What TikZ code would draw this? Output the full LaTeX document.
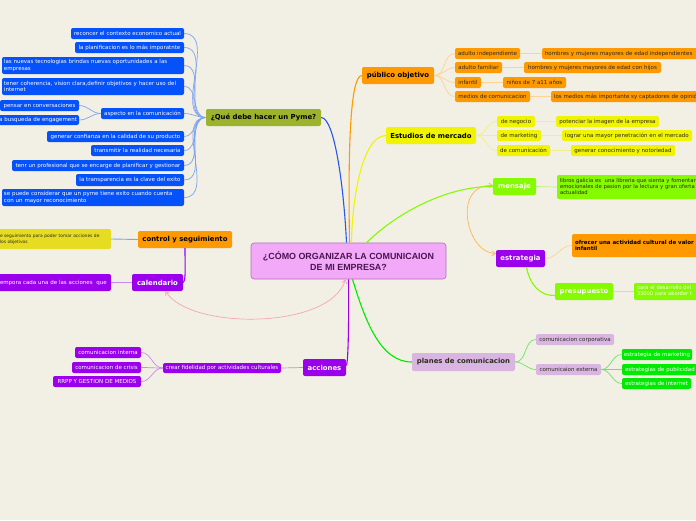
\documentclass[tikz,border=0pt]{standalone}
\usepackage{fontspec}
\setmainfont{DejaVu Sans}
\newfontfamily\arialf{Liberation Sans}
\usetikzlibrary{arrows.meta}
\definecolor{bg}{HTML}{F2EFE4}
\definecolor{cblue}{HTML}{0552FA}
\definecolor{cbluel}{HTML}{7FA4F2}
\definecolor{cbluem}{HTML}{2458F5}
\definecolor{olive}{HTML}{9DB32B}
\definecolor{corange}{HTML}{FF9900}
\definecolor{corangel}{HTML}{FFD394}
\definecolor{cyel}{HTML}{F0F400}
\definecolor{cyell}{HTML}{F2EE8A}
\definecolor{cyelc}{HTML}{E6DC22}
\definecolor{clime}{HTML}{86FA00}
\definecolor{climel}{HTML}{B8F27A}
\definecolor{cgreen}{HTML}{00EA00}
\definecolor{cgreenl}{HTML}{66E866}
\definecolor{cpurple}{HTML}{9A00EC}
\definecolor{cpurplel}{HTML}{C88AEA}
\definecolor{clav}{HTML}{D9B6E2}
\definecolor{cpink}{HTML}{F1A9F8}
\definecolor{cpinkb}{HTML}{B06EB4}
\definecolor{carrow}{HTML}{F3A6BA}
\definecolor{ctext}{HTML}{2E2A20}
\definecolor{ctitle}{HTML}{4A1450}
\begin{document}
\hyphenpenalty=10000
\exhyphenpenalty=10000
\begin{tikzpicture}[x=1pt,y=-1pt,
  box/.style={rounded corners=2pt, inner xsep=2pt, inner ysep=1pt, font=\fontsize{5.5}{6.2}\selectfont},
  blueleaf/.style={box, fill=cblue, text=white},
  orleaf/.style={box, fill=corange, text=ctext},
  yelleaf/.style={box, fill=cyel, text=ctext},
  purleaf/.style={box, fill=cpurple, text=white},
  lavleaf/.style={box, fill=clav, text=ctext},
  grleaf/.style={box, fill=cgreen, text=white},
  limeleaf/.style={box, fill=clime, text=ctext},
  mainbox/.style={rounded corners=2pt, inner sep=1pt, font=\fontsize{6.9}{8}\selectfont\bfseries},
  ledge/.style={line width=0.7pt},
  medge/.style={line width=1.1pt},
  tip/.style={{Straight Barb[length=3.5pt,width=5pt]}-{Straight Barb[length=3.5pt,width=5pt]}}
]
\useasboundingbox (0,0) rectangle (696,520);
\clip (0,0) rectangle (696,520);
\fill[bg] (0,0) rectangle (696,520);

% ---------- center
\node[rounded corners=3pt, fill=cpink, draw=cpinkb, line width=0.6pt, minimum width=195pt, minimum height=36pt, align=center, text=ctitle, font=\arialf\fontsize{8.9}{10.5}\selectfont\bfseries] (c) at (348.5,261) {¿CÓMO ORGANIZAR LA COMUNICAION\\DE MI EMPRESA?};

% ---------- Que debe hacer
\node[mainbox, fill=olive, text=black, minimum width=115pt, minimum height=17pt] (que) at (263.5,117.5) {¿Qué debe hacer un Pyme?};
\node[blueleaf, minimum width=113pt, minimum height=11pt] (b1) at (127.5,33.5) {reconcer el contexto economico actual};
\node[blueleaf, minimum width=109pt, minimum height=11pt] (b2) at (129.5,47.5) {la planificacion es lo más imporatnte};
\node[blueleaf, text width=178pt, minimum height=17pt, align=left] (b3) at (93,65.5) {las nuevas tecnologias brindas nuevas oportunidades a las empresas};
\node[blueleaf, text width=178pt, minimum height=17pt, align=left] (b4) at (93,86.5) {tener coherencia, vision clara,definir objetivos y hacer uso del internet};
\node[blueleaf, minimum width=79pt, minimum height=11pt] (b5) at (39.5,105.5) {pensar en conversaciones};
\node[blueleaf, text width=85pt, minimum height=10pt, align=right] (b6) at (34.5,120) {la busqueda de engagement};
\node[blueleaf, minimum width=83pt, minimum height=11pt] (b7) at (142.5,113.5) {aspecto en la comunicación};
\node[blueleaf, minimum width=137pt, minimum height=11pt] (b8) at (115.5,136.5) {generar confianza en la calidad de su producto};
\node[blueleaf, minimum width=93pt, minimum height=11pt] (b9) at (137.5,150.5) {transmitir la realidad necesaria};
\node[blueleaf, minimum width=172pt, minimum height=11pt] (b10) at (98,165.5) {tenr un profesional que se encarge de planificar y gestionar};
\node[blueleaf, minimum width=108pt, minimum height=12pt] (b11) at (130,180) {la transparencia es la clave del exito};
\node[blueleaf, text width=178pt, minimum height=17pt, align=left] (b12) at (93,197.5) {se puede considerar que un pyme tiene exito cuando cuenta con un mayor reconocimiento};

\foreach \n in {b1,b2,b3,b4,b7,b8,b9,b10,b11,b12}
  \draw[ledge, cbluel] (que.west) to[out=180,in=0] (\n.east);
\draw[ledge, cbluel] (b7.west) to[out=180,in=0] (b5.east);
\draw[ledge, cbluel] (b7.west) to[out=180,in=0] (b6.east);

% ---------- control / calendario
\node[mainbox, fill=corange, text=black, minimum width=94pt, minimum height=17pt] (ctl) at (185,239.5) {control y seguimiento};
\node[box, fill=cyelc, text=ctext, text width=116pt, minimum height=20pt, align=left, font=\fontsize{4.4}{6}\selectfont] (yl) at (51,239) {\hspace*{7pt}e seguimiento para poder tomar acciones de\\\hspace*{7pt}los objetivos};
\node[mainbox, fill=cpurple, text=white, minimum width=51pt, minimum height=17pt] (cal) at (157.5,282.5) {calendario};
\node[purleaf, text width=116pt, minimum height=17pt, align=left] (cl) at (51,282.5) {\hspace*{7pt}empora cada una de las acciones\ \ que};
\draw[ledge, cbluel, line width=0.9pt] (ctl.west) -- (yl.east);
\draw[ledge, cpurplel] (cal.west) -- (cl.east);
\draw[medge, cpurple] (ctl.south) .. controls (185,268) and (186,280) .. (cal.east);
\draw[ledge, carrow, tip] ([xshift=-3pt]c.south) .. controls (330,330) and (190,330) .. ([xshift=8pt]cal.south);

% ---------- acciones
\node[mainbox, fill=cpurple, text=white, minimum width=43pt, minimum height=17pt] (acc) at (324.5,367.5) {acciones};
\node[purleaf, minimum width=118pt, minimum height=10pt] (cre) at (222,368) {crear fidelidad por actividades culturales};
\node[purleaf, minimum width=66pt, minimum height=11pt] (ci) at (108,352.5) {comunicacion interna};
\node[purleaf, minimum width=69pt, minimum height=11pt] (cc) at (106.5,367.5) {comunicacion de crisis};
\node[purleaf, minimum width=88pt, minimum height=11pt] (rr) at (97,381.5) {RRPP Y GESTION DE MEDIOS};
\draw[ledge, cpurplel] (acc.west) -- (cre.east);
\foreach \n in {ci,cc,rr}
  \draw[ledge, cpurplel] (cre.west) to[out=180,in=0] (\n.east);

% ---------- publico objetivo
\node[mainbox, fill=corange, text=black, minimum width=72pt, minimum height=17pt] (pub) at (398,75.5) {público objetivo};
\node[orleaf, minimum width=65pt, minimum height=11pt] (o1) at (487.5,53.5) {adulto independiente};
\node[orleaf, text width=154pt, minimum height=11pt, align=left] (o1b) at (621,53.5) {\hspace*{1pt}hombres y mujeres mayores de edad independientes};
\node[orleaf, minimum width=47pt, minimum height=11pt] (o2) at (478.5,67.5) {adulto familiar};
\node[orleaf, minimum width=137pt, minimum height=11pt] (o2b) at (592.5,67.5) {hombres y mujeres mayores de edad con hijos};
\node[orleaf, minimum width=26pt, minimum height=11pt] (o3) at (468,82.5) {infantil};
\node[orleaf, minimum width=63pt, minimum height=11pt] (o3b) at (534.5,82.5) {niños de 7 a11 años};
\node[orleaf, minimum width=75pt, minimum height=11pt] (o4) at (492.5,96.5) {medios de comunicacion};
\node[orleaf, text width=165pt, minimum height=11pt, align=left] (o4b) at (635.5,96.5) {\hspace*{1pt}los medios más importante sy captadores de opinión};
\foreach \n in {o1,o2,o3,o4}
  \draw[ledge, corangel] (pub.east) to[out=0,in=180] (\n.west);
\draw[ledge, corangel] (o1.east) -- (o1b.west);
\draw[ledge, corangel] (o2.east) -- (o2b.west);
\draw[ledge, corangel] (o3.east) -- (o3b.west);
\draw[ledge, corangel] (o4.east) -- (o4b.west);

% ---------- estudios de mercado
\node[mainbox, fill=cyel, text=black, minimum width=90pt, minimum height=17pt] (est) at (431,135.5) {Estudios de mercado};
\node[yelleaf, minimum width=38pt, minimum height=11pt] (y1) at (516,121.5) {de negocio};
\node[yelleaf, minimum width=103pt, minimum height=11pt] (y1b) at (607.5,121.5) {potenciar la imagen de la empresa};
\node[yelleaf, minimum width=44pt, minimum height=11pt] (y2) at (519,135.5) {de marketing};
\node[yelleaf, minimum width=130pt, minimum height=11pt] (y2b) at (627,135.5) {lograr una mayor penetración en el mercado};
\node[yelleaf, minimum width=53pt, minimum height=11pt] (y3) at (523.5,150.5) {de comunicación};
\node[yelleaf, minimum width=104pt, minimum height=11pt] (y3b) at (623,150.5) {generar conocimiento y notoriedad};
\foreach \n in {y1,y2,y3}
  \draw[ledge, cyell] (est.east) to[out=0,in=180] (\n.west);
\draw[ledge, cyell] (y1.east) -- (y1b.west);
\draw[ledge, cyell] (y2.east) -- (y2b.west);
\draw[ledge, cyell] (y3.east) -- (y3b.west);

% ---------- mensaje / estrategia / presupuesto
\node[mainbox, fill=clime, text=white, minimum width=43pt, minimum height=17pt] (men) at (514.5,186.5) {mensaje};
\node[limeleaf, text width=159pt, minimum height=24pt, align=left, font=\fontsize{5.3}{6}\selectfont] (menl) at (638.5,187) {\hspace*{1pt}libros galicia es\ \ una libreria que sienta y fomentar\\\hspace*{1pt}emocionales de pasion por la lectura y gran oferta\\\hspace*{1pt}actualidad};
\draw[ledge, climel] (men.east) -- (menl.west);

\node[mainbox, fill=cpurple, text=white, minimum width=49pt, minimum height=17pt] (str) at (520.5,258.5) {estrategia};
\node[box, fill=corange, text=black, text width=144pt, minimum height=23pt, align=left, font=\fontsize{5.5}{6.8}\selectfont\bfseries] (strl) at (646,245.5) {\hspace*{1pt}ofrecer una actividad cultural de valor\\\hspace*{1pt}infantil};
\draw[ledge, corangel] (str.east) to[out=0,in=180] (strl.west);
\draw[ledge, corange!70, tip] ([yshift=1pt]men.west) .. controls (452,184) and (466,253) .. ([yshift=5pt]str.west);

\node[mainbox, fill=clime, text=white, minimum width=58pt, minimum height=17pt] (pre) at (584,291.5) {presupuesto};
\node[box, fill=clime, text=white, text width=82pt, minimum height=17pt, align=left, font=\fontsize{5.1}{6}\selectfont] (prel) at (677,291.5) {\hspace*{1pt}para el desarrollo del\\\hspace*{1pt}35000 para abordar t};
\draw[ledge, climel] (pre.east) -- (prel.west);
\draw[medge, clime] ([xshift=6pt]str.south) .. controls (530,285) and (540,296) .. ([yshift=-4pt]pre.west);

% ---------- planes de comunicacion
\node[mainbox, fill=clav, text=ctext, minimum width=103pt, minimum height=18pt] (pl) at (463.5,362) {planes de comunicacion};
\node[lavleaf, minimum width=78pt, minimum height=11pt] (p1) at (575,339.5) {comunicacion corporativa};
\node[lavleaf, minimum width=65pt, minimum height=11pt] (p2) at (568.5,369.5) {comunicaion externa};
\node[grleaf, minimum width=70pt, minimum height=11pt] (g1) at (657,354.5) {estrategia de marketing};
\node[grleaf, text width=74pt, minimum height=11pt, align=left] (g2) at (661,369.5) {\hspace*{1pt}estrategias de publicidad};
\node[grleaf, minimum width=69pt, minimum height=11pt] (g3) at (656.5,383.5) {estrategias de internet};
\draw[ledge, cgreenl] (pl.east) to[out=0,in=180] (p1.west);
\draw[ledge, cgreenl] (pl.east) to[out=0,in=180] (p2.west);
\foreach \n in {g1,g2,g3}
  \draw[ledge, cgreenl] (p2.east) to[out=0,in=180] (\n.west);

% ---------- main connectors from center
\draw[medge, cbluem] ([xshift=-2pt]c.north) .. controls (344,190) and (335,118) .. (que.east);
\draw[medge, corange] ([xshift=1pt]c.north) .. controls (348,150) and (350,76) .. (pub.west);
\draw[medge, cyel] ([xshift=3pt]c.north) .. controls (352,200) and (362,136) .. (est.west);
\draw[medge, clime] ([xshift=18pt]c.north) .. controls (400,210) and (450,186) .. (men.west);
\draw[medge, cpurple] ([xshift=0pt]c.south) .. controls (349,330) and (348,365) .. ([yshift=2pt]acc.east);
\draw[medge, cgreen] ([xshift=4pt]c.south) .. controls (365,320) and (380,362) .. (pl.west);
\end{tikzpicture}
\end{document}
